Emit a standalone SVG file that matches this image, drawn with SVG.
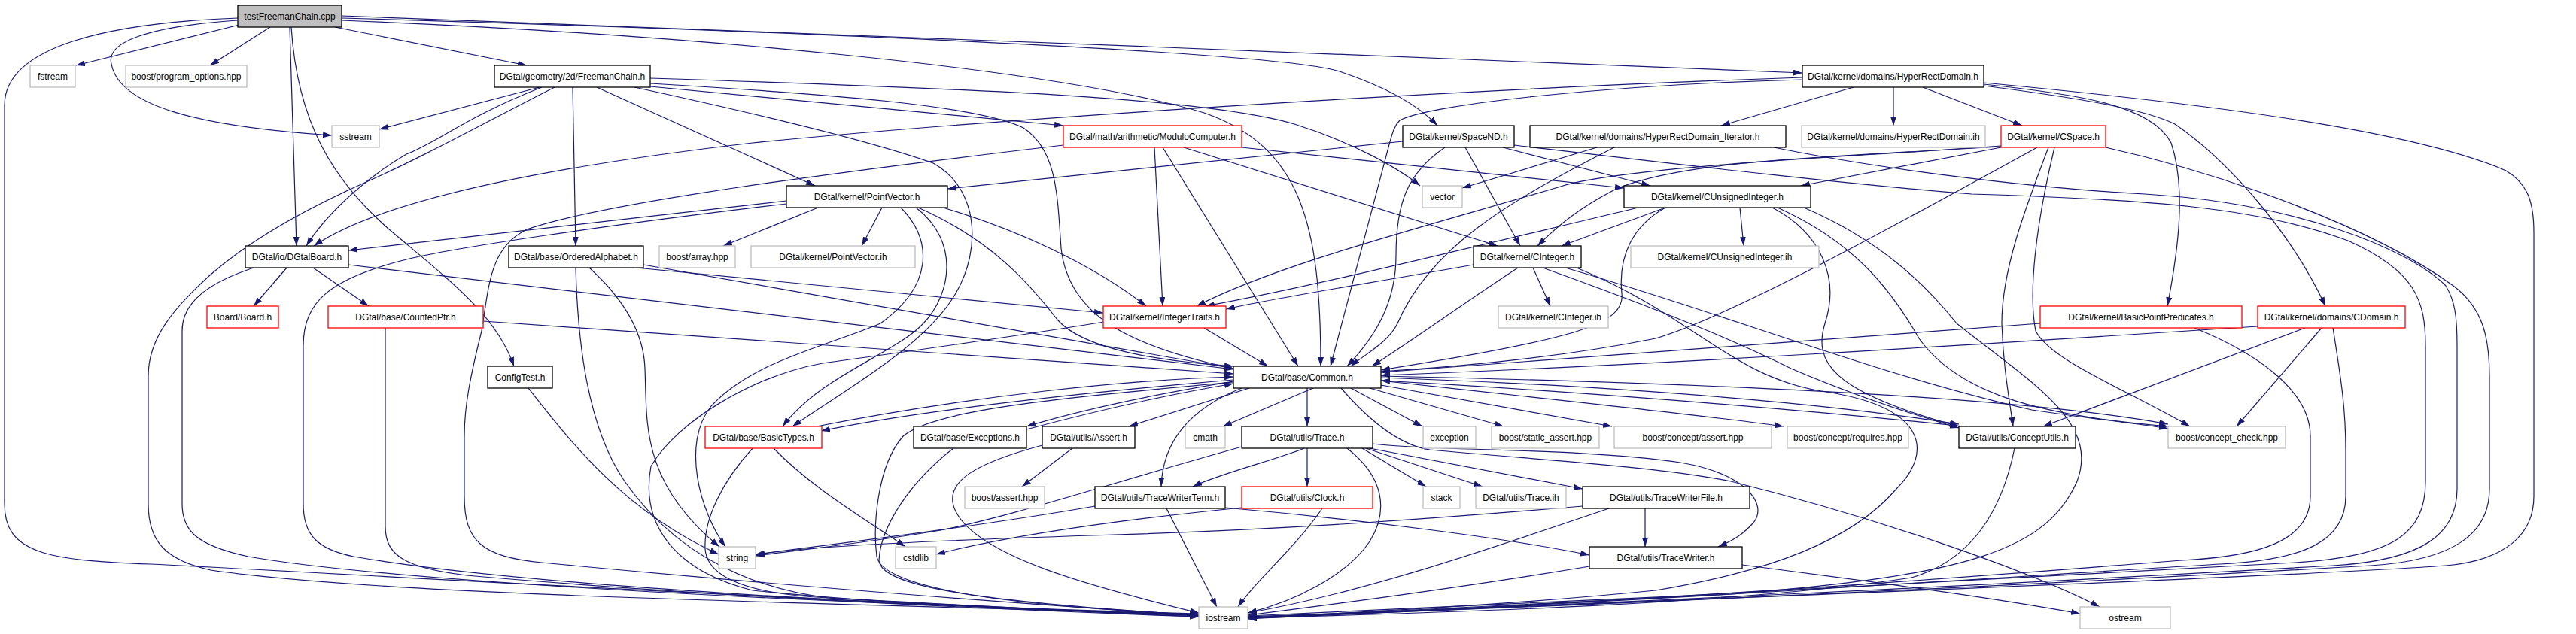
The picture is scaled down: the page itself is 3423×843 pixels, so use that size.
<svg xmlns="http://www.w3.org/2000/svg" width="3423" height="843" viewBox="0 0 3423 843">
<style>
text{font-family:"Liberation Sans",Arial,sans-serif;font-size:12px;text-anchor:middle;fill:#000}
rect{stroke-width:1.3}
.nb{fill:#fff;stroke:#000}
.nr{fill:#fff;stroke:#ff0000}
.ng{fill:#fff;stroke:#bfbfbf}
.nt{fill:#bfbfbf;stroke:#000}
.e{fill:none;stroke:#191970;stroke-width:1.2;marker-end:url(#a)}
</style>
<defs>
<marker id="a" viewBox="0 0 12 8" refX="12" refY="4" markerWidth="12" markerHeight="8" markerUnits="userSpaceOnUse" orient="auto">
<path d="M0,0 L12,4 L0,8 z" fill="#191970"/>
</marker>
</defs>
<rect width="3423" height="843" fill="#fff"/>
<g id="edges">
<path class="e" d="M316,24 C150,30 6,60 6,140 L6,670 C6,735 60,745 200,750 C500,765 1000,795 1593,819"/>
<path class="e" d="M318,33 L101,87"/>
<path class="e" d="M359,36 L279,87"/>
<path class="e" d="M316,27 C200,35 140,55 148,85 C158,140 260,168 441,180"/>
<path class="e" d="M385,36 L394,327"/>
<path class="e" d="M387,36 C395,160 440,240 523,310 C600,375 660,420 683,487"/>
<path class="e" d="M445,36 L700,87"/>
<path class="e" d="M454,24 C1000,40 1700,68 1780,95 C1840,115 1885,140 1910,167"/>
<path class="e" d="M454,21 C1000,38 1800,75 2395,97"/>
<path class="e" d="M454,27 C900,45 1400,90 1600,150 C1730,195 1755,300 1755,487"/>
<path class="e" d="M717,116 L504,172"/>
<path class="e" d="M720,116 C620,155 580,190 540,205 C480,240 430,290 407,327"/>
<path class="e" d="M737,116 C650,160 560,210 480,245 C380,290 320,330 280,365 C230,410 197,450 197,500 L197,670 C197,720 220,745 280,758 C500,790 1000,800 1593,817"/>
<path class="e" d="M761,116 L765,327"/>
<path class="e" d="M793,116 L1083,247"/>
<path class="e" d="M864,104 C1300,118 1600,130 1720,165 C1800,190 1860,225 1887,247"/>
<path class="e" d="M864,115 C1100,138 1300,155 1413,167"/>
<path class="e" d="M864,111 C1100,125 1300,140 1360,170 C1405,200 1405,260 1410,330 C1420,420 1500,460 1639,490"/>
<path class="e" d="M843,116 C1000,150 1150,185 1240,217 C1300,250 1305,330 1270,390 C1230,460 1120,520 1053,567"/>
<path class="e" d="M765,356 C767,430 775,560 830,640 C900,740 1000,782 1100,795 C1300,807 1450,813 1593,818"/>
<path class="e" d="M783,356 C815,385 855,430 857,490 C860,560 850,640 956,727"/>
<path class="e" d="M845,356 L1466,416"/>
<path class="e" d="M855,352 L1639,490"/>
<path class="e" d="M381,356 L337,407"/>
<path class="e" d="M416,356 L490,407"/>
<path class="e" d="M337,356 C280,375 242,400 242,440 L242,670 C242,705 260,725 330,740 C500,770 1000,800 1593,816"/>
<path class="e" d="M463,352 L1639,491"/>
<path class="e" d="M512,436 L512,700 C512,740 540,755 620,765 C900,790 1300,810 1593,820"/>
<path class="e" d="M642,427 L1639,497"/>
<path class="e" d="M702,516 C760,590 830,680 955,737"/>
<path class="e" d="M1045,267 C800,295 600,318 463,333"/>
<path class="e" d="M1045,271 C800,300 600,330 540,345 C440,370 403,400 403,460 L403,670 C403,710 420,730 470,740 C700,780 1200,805 1593,818"/>
<path class="e" d="M1087,276 L961,327"/>
<path class="e" d="M1172,276 L1145,327"/>
<path class="e" d="M1197,276 C1240,320 1240,380 1170,430 C1100,460 1000,480 945,540 C905,590 930,680 964,727"/>
<path class="e" d="M1217,276 C1275,320 1265,390 1227,430 C1190,470 1090,500 1040,567"/>
<path class="e" d="M1220,276 C1320,320 1370,380 1405,425 C1440,465 1540,480 1639,487"/>
<path class="e" d="M1253,276 C1350,305 1450,350 1523,407"/>
<path class="e" d="M1413,193 C1100,230 800,270 700,305 C650,330 650,380 640,440 C625,500 617,540 617,580 L617,660 C617,720 640,740 720,748 C950,770 1300,800 1593,818"/>
<path class="e" d="M1534,196 L1545,407"/>
<path class="e" d="M1545,196 L1725,487"/>
<path class="e" d="M1573,196 L1990,327"/>
<path class="e" d="M1650,196 L2158,250"/>
<path class="e" d="M1864,188 L1259,251"/>
<path class="e" d="M1920,196 C1870,230 1855,270 1855,340 C1855,400 1830,445 1790,487"/>
<path class="e" d="M1947,196 L2020,327"/>
<path class="e" d="M1997,196 L2193,247"/>
<path class="e" d="M2012,193 C2200,215 2450,245 2620,258 C2850,265 3000,275 3120,320 C3210,360 3223,400 3223,460 L3223,640 C3223,710 3180,740 3050,748 C2700,770 2100,800 1658,819"/>
<path class="e" d="M2463,116 L2287,167"/>
<path class="e" d="M2516,116 L2516,167"/>
<path class="e" d="M2555,116 L2687,167"/>
<path class="e" d="M2395,106 C2150,112 1900,138 1860,160 C1852,168 1850,178 1846,192 L1768,487"/>
<path class="e" d="M2395,103 C1900,120 1300,160 1000,190 C700,225 500,270 417,327"/>
<path class="e" d="M2636,112 C2760,125 2860,140 2885,190 C2905,250 2895,330 2880,407"/>
<path class="e" d="M2636,114 C2760,130 2850,145 2890,165 C2970,220 3050,320 3090,407"/>
<path class="e" d="M2636,110 C2900,135 3200,170 3330,227 C3360,245 3367,270 3367,310 L3367,660 C3367,710 3330,745 3250,752 C3000,770 2000,805 1658,823"/>
<path class="e" d="M2122,196 L1943,250"/>
<path class="e" d="M2145,196 C2000,270 1900,330 1857,430 C1845,455 1815,470 1795,487"/>
<path class="e" d="M2357,196 C2500,225 2700,250 2850,258 C3050,270 3200,330 3250,380 C3262,400 3265,420 3265,460 L3265,650 C3265,710 3220,745 3100,752 C2700,775 2100,805 1658,820"/>
<path class="e" d="M2659,196 L2393,247"/>
<path class="e" d="M2659,194 C2450,210 2250,210 2150,250 C2100,275 2070,300 2043,327"/>
<path class="e" d="M2707,196 C2500,310 2300,420 2200,450 C2050,480 1900,490 1835,494"/>
<path class="e" d="M2659,195 C2400,210 2150,225 2077,247 C1900,300 1700,350 1590,407"/>
<path class="e" d="M2722,196 C2690,280 2660,360 2660,430 C2662,490 2670,530 2675,567"/>
<path class="e" d="M2730,196 C2705,300 2695,390 2705,440 C2725,480 2830,520 2910,567"/>
<path class="e" d="M2798,196 C2950,230 3150,300 3260,380 C3300,410 3308,450 3308,500 L3308,650 C3308,710 3260,745 3150,752 C2700,778 2100,806 1658,821"/>
<path class="e" d="M2312,276 L2317,327"/>
<path class="e" d="M2213,276 L2075,327"/>
<path class="e" d="M2177,276 C1950,330 1750,380 1602,407"/>
<path class="e" d="M2213,276 C2170,300 2150,340 2155,390 C2160,430 2100,450 1835,492"/>
<path class="e" d="M2355,276 C2420,310 2445,370 2425,430 C2410,480 2430,520 2603,567"/>
<path class="e" d="M2362,276 C2460,320 2510,380 2550,450 C2600,520 2700,552 2881,567"/>
<path class="e" d="M2397,276 C2500,320 2560,380 2600,430 C2700,510 2790,560 2760,640 C2720,730 2620,765 2300,790 C2000,805 1800,815 1658,822"/>
<path class="e" d="M2037,356 L2060,407"/>
<path class="e" d="M2017,356 C1950,400 1880,450 1823,487"/>
<path class="e" d="M1958,352 C1800,380 1700,395 1629,411"/>
<path class="e" d="M2050,356 C2200,410 2300,450 2380,490 C2450,520 2520,545 2603,569"/>
<path class="e" d="M2080,356 C2300,420 2500,500 2700,545 C2800,560 2850,564 2881,570"/>
<path class="e" d="M2095,356 C2250,420 2300,500 2420,520 C2560,540 2570,600 2520,650 C2460,720 2350,760 2200,785 C2000,805 1800,815 1658,821"/>
<path class="e" d="M1600,436 L1685,487"/>
<path class="e" d="M1467,428 C1300,455 1150,475 1093,483 C1000,500 900,560 865,620 C850,700 900,760 1000,785 C1200,805 1400,812 1593,818"/>
<path class="e" d="M2711,430 C2400,455 2100,478 1835,495"/>
<path class="e" d="M2916,436 C3000,470 3070,520 3070,580 L3070,660 C3070,720 3000,740 2900,745 C2700,760 2300,795 1658,822"/>
<path class="e" d="M3000,434 C2600,460 2200,485 1835,499"/>
<path class="e" d="M3063,436 L2715,567"/>
<path class="e" d="M3085,436 L2972,567"/>
<path class="e" d="M3100,436 C3110,500 3117,540 3117,600 L3117,660 C3117,720 3060,745 2950,750 C2700,765 2200,800 1658,822"/>
<path class="e" d="M1085,567 C1300,525 1500,505 1639,501"/>
<path class="e" d="M1639,505 C1400,525 1200,550 1091,573"/>
<path class="e" d="M1028,596 C1080,650 1150,690 1203,727"/>
<path class="e" d="M1000,596 C960,640 935,690 937,730 C940,770 1000,790 1100,795 C1300,805 1450,815 1593,820"/>
<path class="e" d="M1639,507 C1500,530 1420,550 1364,567"/>
<path class="e" d="M1364,571 C1450,548 1550,525 1639,510"/>
<path class="e" d="M1267,596 C1210,640 1170,700 1168,745 C1170,780 1300,800 1593,818"/>
<path class="e" d="M1660,516 L1500,567"/>
<path class="e" d="M1425,596 L1358,647"/>
<path class="e" d="M1385,592 C1300,615 1250,640 1270,680 C1300,740 1450,780 1593,815"/>
<path class="e" d="M1745,516 L1625,567"/>
<path class="e" d="M1650,516 C1590,540 1545,580 1543,647"/>
<path class="e" d="M1639,508 C1400,530 1240,545 1200,580 C1165,620 1160,700 1165,740 C1175,790 1400,808 1593,818"/>
<path class="e" d="M1737,516 L1737,567"/>
<path class="e" d="M1795,516 L1890,567"/>
<path class="e" d="M1820,516 L1998,567"/>
<path class="e" d="M1835,512 L2142,567"/>
<path class="e" d="M1835,506 C2050,530 2250,550 2370,567"/>
<path class="e" d="M1835,502 C2200,515 2450,540 2603,564"/>
<path class="e" d="M1835,500 C2300,510 2700,530 2881,564"/>
<path class="e" d="M1782,516 C1820,560 1860,592 1900,598 C2050,612 2200,620 2300,640 C2500,690 2700,760 2790,807"/>
<path class="e" d="M1824,590 C1900,600 2100,595 2233,615 C2320,630 2350,670 2330,695 C2315,712 2300,720 2283,727"/>
<path class="e" d="M1737,596 L1737,647"/>
<path class="e" d="M1810,596 L1895,647"/>
<path class="e" d="M1815,596 L1970,647"/>
<path class="e" d="M1820,596 L2103,650"/>
<path class="e" d="M1733,596 C1700,610 1620,630 1585,647"/>
<path class="e" d="M1650,594 C1450,650 1350,685 1250,705 C1150,722 1050,733 1004,739"/>
<path class="e" d="M1790,596 C1840,635 1845,680 1820,720 C1790,765 1720,800 1658,815"/>
<path class="e" d="M1455,673 C1300,700 1100,725 1004,737"/>
<path class="e" d="M1550,676 L1617,807"/>
<path class="e" d="M1628,675 C1800,690 2000,715 2112,738"/>
<path class="e" d="M1757,676 C1720,730 1670,770 1645,807"/>
<path class="e" d="M1650,675 C1500,690 1350,710 1244,737"/>
<path class="e" d="M2103,673 C1900,690 1700,705 1450,712 C1200,720 1050,728 1004,738"/>
<path class="e" d="M2186,676 L2186,727"/>
<path class="e" d="M2138,676 C1950,740 1800,790 1658,815"/>
<path class="e" d="M2112,753 C1950,780 1800,800 1658,818"/>
<path class="e" d="M2315,751 C2500,775 2650,795 2764,816"/>
<path class="e" d="M2610,567 C2300,535 2000,515 1835,506"/>
<path class="e" d="M2677,596 C2660,680 2620,745 2540,768 C2300,805 1900,815 1658,822"/>
</g>
<g id="n_T"><rect class="nt" x="316" y="7" width="138" height="29"/><text x="385" y="26">testFreemanChain.cpp</text></g>
<g id="n_fstream"><rect class="ng" x="40" y="87" width="60" height="29"/><text x="70" y="106">fstream</text></g>
<g id="n_progopt"><rect class="ng" x="167" y="87" width="161" height="29"/><text x="247.5" y="106">boost/program_options.hpp</text></g>
<g id="n_freeman"><rect class="nb" x="657" y="87" width="207" height="29"/><text x="760.5" y="106">DGtal/geometry/2d/FreemanChain.h</text></g>
<g id="n_hrd"><rect class="nb" x="2395" y="87" width="241" height="29"/><text x="2515.5" y="106">DGtal/kernel/domains/HyperRectDomain.h</text></g>
<g id="n_sstream"><rect class="ng" x="441" y="167" width="63" height="29"/><text x="472.5" y="186">sstream</text></g>
<g id="n_modulo"><rect class="nr" x="1413" y="167" width="237" height="29"/><text x="1531.5" y="186">DGtal/math/arithmetic/ModuloComputer.h</text></g>
<g id="n_spacend"><rect class="nb" x="1864" y="167" width="148" height="29"/><text x="1938" y="186">DGtal/kernel/SpaceND.h</text></g>
<g id="n_hrdi"><rect class="nb" x="2033" y="167" width="340" height="29"/><text x="2203" y="186">DGtal/kernel/domains/HyperRectDomain_Iterator.h</text></g>
<g id="n_hrdih"><rect class="ng" x="2394" y="167" width="244" height="29"/><text x="2516" y="186">DGtal/kernel/domains/HyperRectDomain.ih</text></g>
<g id="n_cspace"><rect class="nr" x="2659" y="167" width="139" height="29"/><text x="2728.5" y="186">DGtal/kernel/CSpace.h</text></g>
<g id="n_pointvector"><rect class="nb" x="1045" y="247" width="214" height="29"/><text x="1152" y="266">DGtal/kernel/PointVector.h</text></g>
<g id="n_vector"><rect class="ng" x="1890" y="247" width="53" height="29"/><text x="1916.5" y="266">vector</text></g>
<g id="n_cuint"><rect class="nb" x="2158" y="247" width="248" height="29"/><text x="2282" y="266">DGtal/kernel/CUnsignedInteger.h</text></g>
<g id="n_board"><rect class="nb" x="326" y="327" width="137" height="29"/><text x="394.5" y="346">DGtal/io/DGtalBoard.h</text></g>
<g id="n_alphabet"><rect class="nb" x="676" y="327" width="179" height="29"/><text x="765.5" y="346">DGtal/base/OrderedAlphabet.h</text></g>
<g id="n_array"><rect class="ng" x="876" y="327" width="101" height="29"/><text x="926.5" y="346">boost/array.hpp</text></g>
<g id="n_pvih"><rect class="ng" x="998" y="327" width="218" height="29"/><text x="1107" y="346">DGtal/kernel/PointVector.ih</text></g>
<g id="n_cinteger"><rect class="nb" x="1958" y="327" width="143" height="29"/><text x="2029.5" y="346">DGtal/kernel/CInteger.h</text></g>
<g id="n_cuintih"><rect class="ng" x="2167" y="327" width="250" height="29"/><text x="2292" y="346">DGtal/kernel/CUnsignedInteger.ih</text></g>
<g id="n_boardh"><rect class="nr" x="275" y="407" width="95" height="29"/><text x="322.5" y="426">Board/Board.h</text></g>
<g id="n_countedptr"><rect class="nr" x="436" y="407" width="206" height="29"/><text x="539" y="426">DGtal/base/CountedPtr.h</text></g>
<g id="n_inttraits"><rect class="nr" x="1466" y="407" width="163" height="29"/><text x="1547.5" y="426">DGtal/kernel/IntegerTraits.h</text></g>
<g id="n_cintegerih"><rect class="ng" x="1991" y="407" width="146" height="29"/><text x="2064" y="426">DGtal/kernel/CInteger.ih</text></g>
<g id="n_bpp"><rect class="nr" x="2711" y="407" width="268" height="29"/><text x="2845" y="426">DGtal/kernel/BasicPointPredicates.h</text></g>
<g id="n_cdomain"><rect class="nr" x="3000" y="407" width="196" height="29"/><text x="3098" y="426">DGtal/kernel/domains/CDomain.h</text></g>
<g id="n_configtest"><rect class="nb" x="648" y="487" width="86" height="29"/><text x="691" y="506">ConfigTest.h</text></g>
<g id="n_common"><rect class="nb" x="1639" y="487" width="196" height="29"/><text x="1737" y="506">DGtal/base/Common.h</text></g>
<g id="n_basictypes"><rect class="nr" x="937" y="567" width="155" height="29"/><text x="1014.5" y="586">DGtal/base/BasicTypes.h</text></g>
<g id="n_exceptions"><rect class="nb" x="1214" y="567" width="150" height="29"/><text x="1289" y="586">DGtal/base/Exceptions.h</text></g>
<g id="n_assert"><rect class="nb" x="1385" y="567" width="123" height="29"/><text x="1446.5" y="586">DGtal/utils/Assert.h</text></g>
<g id="n_cmath"><rect class="ng" x="1575" y="567" width="53" height="29"/><text x="1601.5" y="586">cmath</text></g>
<g id="n_trace"><rect class="nb" x="1650" y="567" width="174" height="29"/><text x="1737" y="586">DGtal/utils/Trace.h</text></g>
<g id="n_exception"><rect class="ng" x="1891" y="567" width="70" height="29"/><text x="1926" y="586">exception</text></g>
<g id="n_staticassert"><rect class="ng" x="1982" y="567" width="143" height="29"/><text x="2053.5" y="586">boost/static_assert.hpp</text></g>
<g id="n_conceptassert"><rect class="ng" x="2145" y="567" width="209" height="29"/><text x="2249.5" y="586">boost/concept/assert.hpp</text></g>
<g id="n_requires"><rect class="ng" x="2375" y="567" width="161" height="29"/><text x="2455.5" y="586">boost/concept/requires.hpp</text></g>
<g id="n_conceptutils"><rect class="nb" x="2603" y="567" width="155" height="29"/><text x="2680.5" y="586">DGtal/utils/ConceptUtils.h</text></g>
<g id="n_conceptcheck"><rect class="ng" x="2881" y="567" width="156" height="29"/><text x="2959" y="586">boost/concept_check.hpp</text></g>
<g id="n_bassert"><rect class="ng" x="1282" y="647" width="106" height="29"/><text x="1335" y="666">boost/assert.hpp</text></g>
<g id="n_twterm"><rect class="nb" x="1455" y="647" width="173" height="29"/><text x="1541.5" y="666">DGtal/utils/TraceWriterTerm.h</text></g>
<g id="n_clock"><rect class="nr" x="1650" y="647" width="174" height="29"/><text x="1737" y="666">DGtal/utils/Clock.h</text></g>
<g id="n_stack"><rect class="ng" x="1891" y="647" width="49" height="29"/><text x="1915.5" y="666">stack</text></g>
<g id="n_traceih"><rect class="ng" x="1961" y="647" width="120" height="29"/><text x="2021" y="666">DGtal/utils/Trace.ih</text></g>
<g id="n_twfile"><rect class="nb" x="2103" y="647" width="222" height="29"/><text x="2214" y="666">DGtal/utils/TraceWriterFile.h</text></g>
<g id="n_string"><rect class="ng" x="955" y="727" width="49" height="29"/><text x="979.5" y="746">string</text></g>
<g id="n_cstdlib"><rect class="ng" x="1190" y="727" width="54" height="29"/><text x="1217" y="746">cstdlib</text></g>
<g id="n_tw"><rect class="nb" x="2112" y="727" width="203" height="29"/><text x="2213.5" y="746">DGtal/utils/TraceWriter.h</text></g>
<g id="n_iostream"><rect class="ng" x="1593" y="807" width="65" height="29"/><text x="1625.5" y="826">iostream</text></g>
<g id="n_ostream"><rect class="ng" x="2764" y="807" width="120" height="29"/><text x="2824" y="826">ostream</text></g>
</svg>
